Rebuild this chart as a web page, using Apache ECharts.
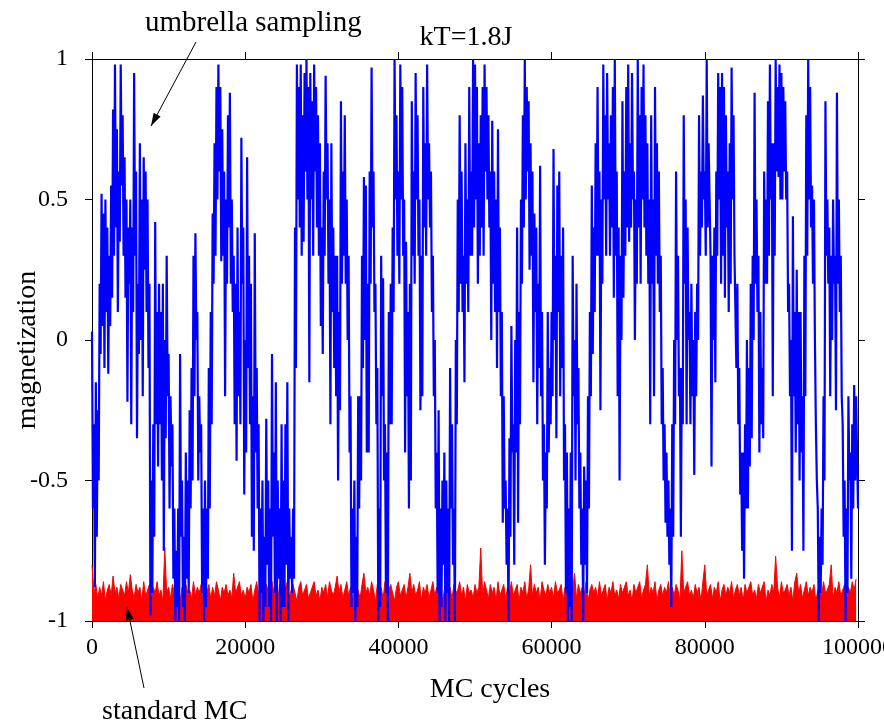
<!DOCTYPE html>
<html>
<head>
<meta charset="utf-8">
<script src="https://cdn.jsdelivr.net/npm/echarts@6/dist/echarts.min.js"></script>
<style>
  html, body { margin: 0; padding: 0; background: #fff; }
  #chart { width: 884px; height: 725px; }
</style>
</head>
<body>
<div id="chart"></div>
<script>
// ---- data ----
const chartTitle = 'kT=1.8J';
const xName = 'MC cycles';
const yName = 'magnetization';
const xTickLabels = ['0', '20000', '40000', '60000', '80000', '100000'];
const yTickLabels = ['-1', '-0.5', '0', '0.5', '1'];
const blueStep = 125; // MC cycles between plotted umbrella samples
const redStep = 250;  // MC cycles between plotted standard-MC samples

// umbrella sampling trace (blue), one value every 125 MC cycles (8 per 1000)
const umbrella = [
  0.03,-0.6,-0.3,-0.88,-0.15,-0.7,-0.25,-0.5,
  0.2,-0.05,0.52,0.05,0.45,-0.1,0.5,0.1,
  0.4,-0.12,0.3,0.05,0.55,0.15,0.82,0.3,
  0.98,0.4,0.75,0.1,0.6,0.35,0.98,0.55,
  0.8,0.3,0.65,0.15,0.5,-0.22,0.4,0.2,
  0.5,-0.3,0.4,0.1,0.95,0.3,0.6,-0.35,
  0.2,-0.05,0.7,0.0,0.5,-0.2,0.65,0.25,
  0.6,0.1,0.5,-0.1,0.2,-0.98,-0.5,-0.9,
  -0.3,-0.7,0.42,-0.3,0.1,-0.45,0.2,-0.3,
  0.1,-0.5,0.2,-0.75,0.0,-0.35,0.3,-0.2,
  -0.05,-0.6,-0.2,-0.45,-0.3,-0.85,-0.6,-1.0,
  -0.75,-0.95,-0.6,-1.0,-0.05,-0.7,-0.5,-0.95,
  -0.7,-1.0,-0.4,-0.85,-0.5,-0.9,-0.25,-0.6,
  -0.1,-0.5,0.3,-0.2,0.38,0.0,0.1,-0.5,
  -0.2,-0.4,-0.3,-0.9,-0.6,-1.0,-0.5,-0.95,
  -0.6,-0.85,-0.1,-0.6,0.1,-0.3,0.45,0.2,
  0.7,0.3,0.9,0.5,0.98,0.6,0.9,0.28,
  0.75,0.3,0.6,-0.2,0.5,0.2,0.8,0.4,
  0.88,0.2,0.5,0.1,0.3,-0.3,0.2,-0.43,
  0.4,-0.2,0.1,-0.3,0.72,0.2,0.4,-0.55,
  0.0,-0.4,0.65,-0.1,0.3,-0.3,0.2,-0.7,
  -0.2,-0.75,0.38,-0.4,-0.1,-0.6,-0.3,-1.0,
  -0.6,-0.9,-0.5,-1.0,-0.7,-0.95,-0.28,-0.8,
  -0.5,-0.95,-0.6,-1.0,-0.05,-0.7,-0.4,-0.9,
  -0.15,-1.0,-0.5,-0.85,-0.6,-1.0,-0.3,-0.95,
  -0.5,-0.95,-0.3,-0.8,-0.15,-1.0,-0.6,-0.85,
  -0.7,-0.9,-0.6,-0.85,0.4,-0.1,0.98,0.5,
  0.9,0.4,0.98,0.3,0.8,0.35,0.95,0.6,
  1.0,0.5,0.9,-0.15,0.95,0.5,0.85,0.3,
  0.98,0.6,0.9,0.4,0.8,0.3,0.7,0.05,
  0.4,-0.05,0.6,0.3,0.94,0.5,0.7,0.2,
  0.5,-0.3,0.7,0.1,0.4,-0.1,0.3,-0.2,
  0.3,-0.5,0.1,-0.25,0.85,0.2,0.6,0.3,
  0.8,0.2,0.5,0.0,0.3,-0.4,-0.2,-0.95,
  -0.6,-0.9,-0.5,-1.0,-0.7,-0.95,-0.2,-0.6,
  -0.2,-0.5,0.3,-0.1,0.58,0.0,0.55,-0.4,
  0.2,-0.4,0.6,0.2,0.97,0.4,0.6,0.1,
  0.2,-0.3,-0.1,-1.0,-0.6,-0.95,0.3,-0.2,
  0.22,-0.5,-0.3,-0.9,-0.4,-1.0,0.1,-0.3,
  0.2,-0.3,0.4,0.1,1.0,0.5,0.8,0.3,
  0.6,0.2,0.98,0.5,0.9,0.3,0.5,-0.4,
  0.35,-0.2,0.1,-0.6,0.2,-0.5,0.85,0.3,
  0.6,0.2,0.95,0.5,0.8,0.3,0.5,-0.25,
  0.3,-0.2,0.9,0.4,0.7,0.3,0.98,0.5,
  0.7,0.4,0.6,0.1,0.3,-0.2,0.0,-0.6,
  -0.4,-0.9,-0.25,-1.0,-0.6,-0.95,-0.5,-0.8,
  -0.4,-1.0,-0.5,-0.9,-0.6,-1.0,-0.1,-0.6,
  -0.3,-0.8,-0.6,-1.0,0.0,-0.3,0.5,0.1,
  0.8,0.2,0.6,0.1,0.3,-0.15,0.7,0.2,
  0.5,0.1,0.9,0.3,0.6,0.3,1.0,0.4,
  0.98,0.5,0.9,0.2,0.7,0.3,0.8,0.4,
  0.9,0.3,0.98,0.6,0.9,0.5,0.8,0.4,
  0.6,0.0,0.78,0.2,0.6,0.1,0.5,-0.1,
  0.75,0.1,0.4,-0.2,0.1,-0.65,-0.2,-0.6,
  -0.5,-0.8,-0.6,-1.0,-0.35,-0.7,0.05,-0.4,
  -0.3,-0.8,0.0,-0.4,0.4,-0.65,0.1,-0.3,
  0.5,0.2,0.8,0.4,1.0,0.5,0.9,0.6,
  0.85,0.25,0.7,0.3,0.6,-0.15,0.45,0.1,
  0.4,-0.3,0.2,-0.1,0.62,-0.2,0.1,-0.5,
  -0.3,-0.8,-0.4,-0.6,0.1,-0.4,-0.1,-0.3,
  0.1,-0.2,0.68,0.0,0.3,-0.35,0.55,0.1,
  0.6,-0.2,0.3,-0.1,0.4,-0.5,-0.3,-0.9,
  -0.4,-1.0,-0.6,-0.95,-0.4,-1.0,0.3,-0.2,
  0.0,-0.5,0.2,-0.3,-0.1,-0.6,-0.4,-0.8,
  -0.6,-1.0,-0.45,-0.8,-0.5,-0.9,-0.2,-0.6,
  0.1,-0.2,0.55,-0.05,0.4,0.1,0.7,0.3,
  0.9,0.3,0.6,-0.25,0.5,0.2,0.98,0.5,
  0.8,0.3,0.95,0.5,0.7,0.3,0.8,0.4,
  0.9,0.15,1.0,0.3,0.6,-0.2,0.4,-0.5,
  0.3,0.0,0.85,0.15,0.6,0.3,0.9,0.4,
  0.98,0.35,0.7,0.4,0.95,0.5,0.6,0.0,
  0.5,0.2,1.0,0.4,0.8,0.2,0.9,0.5,
  0.98,0.4,0.8,0.3,0.7,0.2,0.5,-0.3,
  0.8,0.2,0.5,-0.2,0.9,0.3,0.7,0.2,
  0.6,0.1,0.3,-0.3,-0.1,-0.5,-0.3,-0.65,
  -0.4,-0.7,-0.5,-0.8,-0.6,-0.95,-0.3,-0.7,
  0.0,-0.3,0.6,0.0,0.3,-0.2,-0.1,-0.7,
  -0.1,-0.3,0.8,0.2,0.5,-0.3,0.4,0.0,
  0.1,-0.3,0.2,-0.2,0.0,-0.48,0.1,-0.2,
  0.2,0.0,0.8,0.3,0.6,0.4,0.87,0.5,
  0.6,0.3,1.0,0.4,0.7,0.5,0.3,-0.45,
  0.3,0.0,0.4,-0.15,0.6,0.3,0.95,0.5,
  0.9,0.2,0.95,0.3,0.9,0.15,0.8,0.4,
  0.6,0.1,0.7,0.2,0.97,0.5,0.8,0.3,
  0.3,-0.1,0.2,-0.3,-0.1,-0.55,-0.4,-0.75,
  -0.4,-0.85,-0.3,-0.6,0.0,-0.6,-0.1,-0.45,
  0.2,-0.35,0.3,0.0,0.88,0.2,0.5,0.1,
  0.3,-0.4,0.1,-0.3,-0.1,-0.35,0.6,0.2,
  0.5,0.2,0.85,0.3,0.98,0.5,0.7,-0.2,
  0.7,0.3,1.0,0.6,0.9,0.58,0.98,0.5,
  0.95,0.5,0.9,0.6,0.85,0.5,0.6,0.1,
  0.2,-0.2,0.0,-0.75,0.44,-0.2,0.1,-0.4,
  0.25,-0.3,0.1,-0.5,0.1,-0.4,-0.2,-0.75,
  0.3,-0.2,0.8,0.3,1.0,0.5,0.9,0.4,
  0.55,0.2,0.5,0.0,-0.3,-0.5,-0.6,-1.0,
  -0.7,-0.9,-0.6,-0.8,-0.2,-0.5,0.85,0.3,
  0.5,0.2,0.4,-0.2,0.3,0.0,0.5,0.2,
  0.3,-0.25,0.88,0.2,0.5,0.1,0.3,-0.2,
  -0.3,-0.7,-0.5,-1.0,-0.6,-0.9,-0.2,-0.5,
  -0.4,-0.85,-0.3,-0.6,-0.16,-0.5,-0.2,-0.4,
  -0.6
];

// standard MC trace (red), one value every 250 MC cycles
const standardMC = [
  -0.80,-0.90,-0.87,-0.92,-0.88,-0.91,-0.86,-0.93,-0.89,-0.87,-0.91,-0.84,-0.90,-0.88,-0.92,-0.87,-0.89,-0.91,-0.86,-0.90,
  -0.835,-0.89,-0.92,-0.87,-0.90,-0.88,-0.93,-0.86,-0.91,-0.89,-0.87,-0.92,-0.88,-0.90,-0.86,-0.91,-0.89,-0.93,-0.74,-0.90,
  -0.88,-0.92,-0.87,-0.90,-0.89,-0.86,-0.93,-0.88,-0.91,-0.87,-0.90,-0.89,-0.92,-0.86,-0.91,-0.88,-0.90,-0.87,-0.93,-0.89,
  -0.90,-0.87,-0.92,-0.88,-0.91,-0.86,-0.89,-0.93,-0.88,-0.90,-0.87,-0.91,-0.89,-0.92,-0.83,-0.90,-0.88,-0.86,-0.91,-0.89,
  -0.92,-0.88,-0.90,-0.87,-0.93,-0.89,-0.86,-0.91,-0.88,-0.90,-0.92,-0.87,-0.89,-0.91,-0.86,-0.90,-0.88,-0.93,-0.87,-0.89,
  -0.91,-0.88,-0.86,-0.92,-0.89,-0.87,-0.90,-0.93,-0.88,-0.86,-0.91,-0.89,-0.87,-0.92,-0.90,-0.88,-0.86,-0.91,-0.89,-0.93,
  -0.88,-0.90,-0.87,-0.92,-0.86,-0.89,-0.91,-0.88,-0.84,-0.90,-0.87,-0.92,-0.89,-0.86,-0.91,-0.88,-0.93,-0.87,-0.90,-0.89,
  -0.92,-0.87,-0.83,-0.90,-0.88,-0.91,-0.86,-0.89,-0.93,-0.87,-0.90,-0.88,-0.92,-0.86,-0.91,-0.89,-0.87,-0.90,-0.93,-0.88,
  -0.86,-0.91,-0.89,-0.87,-0.92,-0.88,-0.83,-0.90,-0.87,-0.91,-0.89,-0.86,-0.93,-0.88,-0.90,-0.87,-0.92,-0.89,-0.86,-0.91,
  -0.88,-0.90,-0.87,-0.93,-0.89,-0.86,-0.91,-0.88,-0.92,-0.87,-0.90,-0.89,-0.86,-0.91,-0.88,-0.93,-0.87,-0.90,-0.89,-0.92,
  -0.87,-0.90,-0.88,-0.74,-0.91,-0.86,-0.89,-0.92,-0.87,-0.90,-0.88,-0.93,-0.86,-0.91,-0.89,-0.87,-0.92,-0.88,-0.90,-0.86,
  -0.91,-0.89,-0.87,-0.93,-0.88,-0.90,-0.86,-0.92,-0.89,-0.80,-0.91,-0.87,-0.90,-0.88,-0.93,-0.86,-0.89,-0.91,-0.87,-0.90,
  -0.88,-0.92,-0.86,-0.90,-0.89,-0.87,-0.93,-0.88,-0.91,-0.86,-0.90,-0.89,-0.83,-0.92,-0.87,-0.90,-0.88,-0.91,-0.86,-0.93,
  -0.89,-0.87,-0.90,-0.88,-0.92,-0.86,-0.91,-0.89,-0.87,-0.93,-0.88,-0.90,-0.86,-0.91,-0.89,-0.92,-0.87,-0.90,-0.88,-0.86,
  -0.91,-0.89,-0.93,-0.87,-0.90,-0.88,-0.86,-0.92,-0.89,-0.87,-0.80,-0.91,-0.88,-0.90,-0.86,-0.93,-0.89,-0.87,-0.91,-0.88,
  -0.90,-0.86,-0.92,-0.88,-0.91,-0.87,-0.89,-0.93,-0.75,-0.90,-0.88,-0.86,-0.91,-0.89,-0.92,-0.87,-0.90,-0.88,-0.93,-0.86,
  -0.80,-0.91,-0.89,-0.87,-0.92,-0.88,-0.90,-0.86,-0.93,-0.89,-0.87,-0.91,-0.88,-0.90,-0.86,-0.92,-0.89,-0.87,-0.91,-0.88,
  -0.93,-0.87,-0.90,-0.88,-0.86,-0.91,-0.89,-0.92,-0.87,-0.90,-0.88,-0.86,-0.93,-0.89,-0.91,-0.87,-0.90,-0.77,-0.88,-0.92,
  -0.86,-0.90,-0.89,-0.87,-0.91,-0.88,-0.93,-0.86,-0.83,-0.90,-0.87,-0.92,-0.89,-0.86,-0.91,-0.88,-0.90,-0.87,-0.93,-0.89,
  -0.88,-0.91,-0.86,-0.90,-0.89,-0.87,-0.80,-0.92,-0.88,-0.90,-0.86,-0.91,-0.89,-0.87,-0.93,-0.88,-0.90,-0.86,-0.89,-0.85
];

// ---- chart ----
const FONT = '"Liberation Serif", "DejaVu Serif", serif';
const chart = echarts.init(document.getElementById('chart'), null, { renderer: 'canvas' });

const toPairs = (arr, step) => arr.map((v, i) => [i * step, v]);
const xLabel = v => xTickLabels[Math.round(v / 20000)] ?? '';
const yLabel = v => yTickLabels[Math.round((v + 1) / 0.5)] ?? '';

const axisLineStyle = { color: '#000', width: 1 };

function arrowHead(tipX, tipY, fromX, fromY, len, half) {
  const dx = tipX - fromX, dy = tipY - fromY;
  const d = Math.hypot(dx, dy);
  const ux = dx / d, uy = dy / d;
  const bx = tipX - ux * len, by = tipY - uy * len;
  return [[tipX, tipY], [bx - uy * half, by + ux * half], [bx + uy * half, by - ux * half]];
}

const ann1 = { from: [196, 42], to: [151, 126] };
const ann2 = { from: [144, 688], to: [127, 607] };

chart.setOption({
  animation: false,
  backgroundColor: '#fff',
  grid: { left: 92, right: 26, top: 59, bottom: 104, containLabel: false, outerBoundsMode: 'none' },
  xAxis: [
    {
      type: 'value', min: 0, max: 100000, interval: 20000, position: 'bottom',
      axisLine: { show: true, onZero: false, lineStyle: axisLineStyle },
      axisTick: { show: true, length: 7, inside: false, lineStyle: axisLineStyle },
      axisLabel: { show: true, formatter: xLabel, fontFamily: FONT, fontSize: 24, color: '#000', margin: 15, hideOverlap: false },
      splitLine: { show: false }
    },
    {
      type: 'value', min: 0, max: 100000, interval: 20000, position: 'top',
      axisLine: { show: true, onZero: false, lineStyle: axisLineStyle },
      axisTick: { show: true, length: 7, inside: false, lineStyle: axisLineStyle },
      axisLabel: { show: false },
      splitLine: { show: false }
    }
  ],
  yAxis: [
    {
      type: 'value', min: -1, max: 1, interval: 0.5, position: 'left',
      axisLine: { show: true, onZero: false, lineStyle: axisLineStyle },
      axisTick: { show: true, length: 7, inside: false, lineStyle: axisLineStyle },
      axisLabel: { show: true, formatter: yLabel, fontFamily: FONT, fontSize: 24, color: '#000', margin: 24, align: 'right' },
      splitLine: { show: false }
    },
    {
      type: 'value', min: -1, max: 1, interval: 0.5, position: 'right',
      axisLine: { show: true, onZero: false, lineStyle: axisLineStyle },
      axisTick: { show: true, length: 7, inside: false, lineStyle: axisLineStyle },
      axisLabel: { show: false },
      splitLine: { show: false }
    }
  ],
  series: [
    {
      name: 'standard MC', type: 'line', xAxisIndex: 0, yAxisIndex: 0,
      data: toPairs(standardMC, redStep), showSymbol: false, symbol: 'none', sampling: null,
      lineStyle: { color: '#ff0000', width: 1 },
      areaStyle: { color: '#ff0000', opacity: 1, origin: 'start' },
      z: 2, clip: true
    },
    {
      name: 'umbrella sampling', type: 'line', xAxisIndex: 0, yAxisIndex: 0,
      data: toPairs(umbrella, blueStep), showSymbol: false, symbol: 'none', sampling: null,
      lineStyle: { color: '#0000ff', width: 2.2 },
      z: 3, clip: true
    }
  ],
  graphic: [
    { type: 'text', x: 466, y: 38, style: { text: chartTitle, font: '28px ' + FONT, fill: '#000', align: 'center', verticalAlign: 'middle' } },
    { type: 'text', x: 145, y: 23, style: { text: 'umbrella sampling', font: '29px ' + FONT, fill: '#000', align: 'left', verticalAlign: 'middle' } },
    { type: 'text', x: 102, y: 712, style: { text: 'standard MC', font: '28px ' + FONT, fill: '#000', align: 'left', verticalAlign: 'middle' } },
    { type: 'text', x: 490, y: 690, style: { text: xName, font: '28px ' + FONT, fill: '#000', align: 'center', verticalAlign: 'middle' } },
    { type: 'text', x: 28, y: 350, rotation: Math.PI / 2, style: { text: yName, font: '28px ' + FONT, fill: '#000', align: 'center', verticalAlign: 'middle' } },
    { type: 'line', shape: { x1: ann1.from[0], y1: ann1.from[1], x2: ann1.to[0], y2: ann1.to[1] }, style: { stroke: '#000', lineWidth: 1 }, z: 10 },
    { type: 'polygon', shape: { points: arrowHead(ann1.to[0], ann1.to[1], ann1.from[0], ann1.from[1], 13, 4) }, style: { fill: '#000' }, z: 10 },
    { type: 'line', shape: { x1: ann2.from[0], y1: ann2.from[1], x2: ann2.to[0], y2: ann2.to[1] }, style: { stroke: '#000', lineWidth: 1 }, z: 10 },
    { type: 'polygon', shape: { points: arrowHead(ann2.to[0], ann2.to[1], ann2.from[0], ann2.from[1], 13, 4) }, style: { fill: '#000' }, z: 10 }
  ]
});
</script>
</body>
</html>
